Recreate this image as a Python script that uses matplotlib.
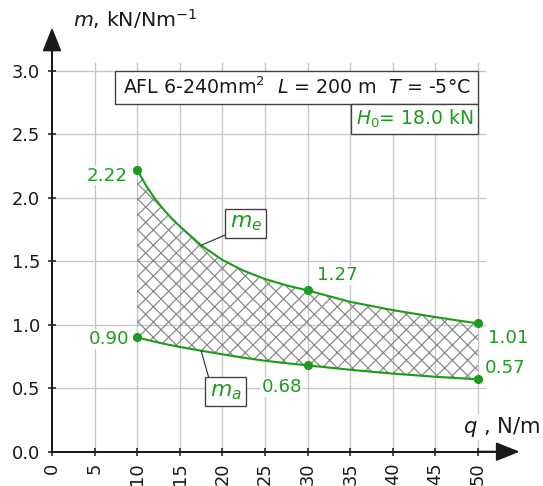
import numpy as np
import matplotlib
matplotlib.use('Agg')
import matplotlib.pyplot as plt
from matplotlib.patches import Rectangle

plt.rcParams['font.family'] = ['DejaVu Sans']
plt.rcParams['mathtext.fontset'] = 'dejavusans'
plt.rcParams['hatch.linewidth'] = 0.65

# load intensity q (N/m) and the two span-mass curves (kN/Nm^-1)
q = [10, 11, 12, 13, 14, 15, 17.5, 20, 22.5, 25, 27.5, 30, 35, 40, 45, 50]
m_e = [2.22, 2.10, 2.00, 1.915, 1.84, 1.775, 1.625, 1.51, 1.425, 1.36, 1.31,
       1.27, 1.18, 1.115, 1.06, 1.01]
m_a = [0.90, 0.883, 0.867, 0.852, 0.838, 0.825, 0.795, 0.767, 0.740, 0.716,
       0.697, 0.68, 0.645, 0.615, 0.59, 0.57]
marked = [0, 11, 15]     # points drawn as dots with value labels
leader_idx = 6           # where the m_e / m_a tags point to

x_ticks = [0, 5, 10, 15, 20, 25, 30, 35, 40, 45, 50]
y_ticks = [0.0, 0.5, 1.0, 1.5, 2.0, 2.5, 3.0]

GREEN = '#1c9c1c'
DARK = '#1a1a1a'
GRID = '#c6c6c6'
HATCH = '#8a8a8a'

DPI = 138
fig = plt.figure(figsize=(543 / DPI, 486 / DPI), dpi=DPI)
ax = fig.add_axes([0.0644, 0.00525, 0.9256, 0.9538])
ax.set_xlim(-2, 57)
ax.set_ylim(-0.25, 3.4)

# grid only inside the plotting field
ax.vlines(x_ticks[1:], 0, 3.07, color=GRID, lw=0.7, zorder=0)
ax.hlines(y_ticks[1:], 0, 51, color=GRID, lw=0.7, zorder=0)

# axes through the origin with arrow heads
for s in ['top', 'right']:
    ax.spines[s].set_visible(False)
ax.spines['left'].set_position(('data', 0))
ax.spines['bottom'].set_position(('data', 0))
ax.spines['left'].set_bounds(0, 3.2)
ax.spines['bottom'].set_bounds(0, 53)
for s in ['left', 'bottom']:
    ax.spines[s].set_linewidth(1.05)
    ax.spines[s].set_color(DARK)
arrow = dict(arrowstyle='-|>,head_length=1.05,head_width=0.42', color=DARK,
             lw=1.05, shrinkA=0, shrinkB=0, mutation_scale=10)
ax.annotate('', xy=(0, 3.34), xytext=(0, 3.0), arrowprops=arrow)
ax.annotate('', xy=(54.9, 0), xytext=(50, 0), arrowprops=arrow)

ax.set_xticks(x_ticks)
ax.set_xticklabels([str(v) for v in x_ticks], rotation=90, va='top')
ax.set_yticks(y_ticks)
ax.set_yticklabels([f'{v:.1f}' for v in y_ticks])
ax.tick_params(direction='inout', length=4.2, width=0.8, color=DARK,
               labelsize=9.3, labelcolor=DARK)
ax.tick_params(axis='y', pad=4)
ax.tick_params(axis='x', pad=3.5)

# region between the curves
ax.fill_between(q, m_a, m_e, facecolor='none', edgecolor=HATCH, hatch='xxx',
                linewidth=0, zorder=1)
ax.plot(q, m_e, color=GREEN, lw=1.1, zorder=3)
ax.plot(q, m_a, color=GREEN, lw=1.1, zorder=3)
ax.plot([q[i] for i in marked], [m_e[i] for i in marked], 'o', color=GREEN,
        ms=3.8, zorder=4)
ax.plot([q[i] for i in marked], [m_a[i] for i in marked], 'o', color=GREEN,
        ms=3.8, zorder=4)

# value labels next to the dots
lbl = dict(textcoords='offset points', color=GREEN, fontsize=9.5, va='center',
           bbox=dict(fc='white', ec='none', pad=0.3), zorder=5)
offs_e = [((-4.7, -3.1), 'right'), ((15.3, 8.0), 'center'), ((5.2, -7.6), 'left')]
offs_a = [((-4.2, -1.0), 'right'), ((-2.9, -11.3), 'right'), ((3.7, 5.9), 'left')]
for i, (off, ha) in zip(marked, offs_e):
    ax.annotate(f'{m_e[i]:.2f}', (q[i], m_e[i]), xytext=off, ha=ha, **lbl)
for i, (off, ha) in zip(marked, offs_a):
    ax.annotate(f'{m_a[i]:.2f}', (q[i], m_a[i]), xytext=off, ha=ha, **lbl)

# curve tags
tag_box = dict(boxstyle='square,pad=0.2', fc='white', ec='#404040', lw=0.7)
ax.annotate('$m_e$', (q[leader_idx], m_e[leader_idx]), xytext=(22.75, 1.80),
            textcoords='data', ha='center', va='center', color=GREEN,
            fontsize=11.5, bbox=tag_box, zorder=6,
            arrowprops=dict(arrowstyle='-', color='#303030', lw=0.6,
                            relpos=(0, 0), shrinkA=0, shrinkB=0))
ax.annotate('$m_a$', (q[leader_idx], m_a[leader_idx]), xytext=(20.4, 0.474),
            textcoords='data', ha='center', va='center', color=GREEN,
            fontsize=11.5, bbox=tag_box, zorder=6,
            arrowprops=dict(arrowstyle='-', color='#303030', lw=0.6,
                            relpos=(0, 1), shrinkA=0, shrinkB=0))

# parameter boxes
ax.add_patch(Rectangle((7.39, 2.738), 50.0 - 7.39, 3.0 - 2.738, fc='white',
                       ec='#404040', lw=0.7, zorder=6))
ax.add_patch(Rectangle((35.1, 2.50), 50.0 - 35.1, 2.738 - 2.50, fc='white',
                       ec='#404040', lw=0.7, zorder=6))
ax.text(28.7, 2.869, r'AFL 6-240mm$^2$  $L$ = 200 m  $T$ = -5°C', ha='center',
        va='center', fontsize=9.9, color=DARK, zorder=7)
ax.text(42.55, 2.62, r'$H_{\mathrm{0}}$= 18.0 kN', ha='center', va='center',
        fontsize=9.8, color=GREEN, zorder=7)

# axis titles
ax.text(2.46, 3.41, r'$m$, kN/Nm$^{-1}$', ha='left', va='center', fontsize=10.7,
        color=DARK)
ax.text(48.2, 0.197, r'$q$ , N/m', ha='left', va='center', fontsize=11,
        color=DARK, bbox=dict(fc='white', ec='none', pad=0.5), zorder=5)

fig.savefig('out.png', dpi=DPI)
